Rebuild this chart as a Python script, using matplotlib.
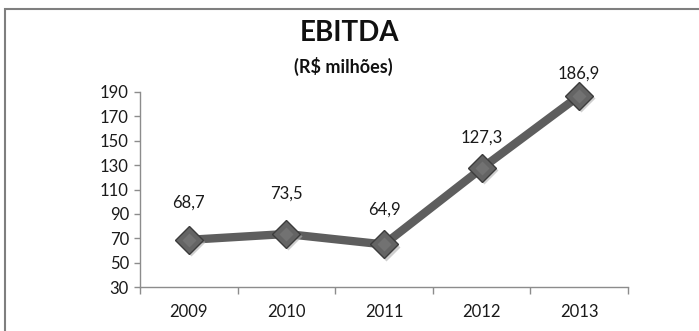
import matplotlib
matplotlib.use("Agg")
import matplotlib.pyplot as plt
from matplotlib.patches import Rectangle
import matplotlib.transforms as mtransforms

years = ["2009", "2010", "2011", "2012", "2013"]
ebitda = [68.7, 73.5, 64.9, 127.3, 186.9]
labels = ["68,7", "73,5", "64,9", "127,3", "186,9"]
yticks = [30, 50, 70, 90, 110, 130, 150, 170, 190]

# vertical distance (points) between each marker and its value label
label_offsets = [27, 29, 25, 22, 16]

plt.rcParams["font.family"] = ["Lato", "DejaVu Sans"]

W, H = 699, 331
fig = plt.figure(figsize=(W / 100, H / 100), dpi=100)
fig.patch.set_facecolor("white")

# chart frame (runs off the right and bottom edges)
fig.add_artist(Rectangle((5 / W, -0.1), 1.2, 1 - 9 / H + 0.1,
                         transform=fig.transFigure, fill=False,
                         edgecolor="#7f7f7f", linewidth=1.5))

left, right, bottom, top = 140, 628, 287, 92
ax = fig.add_axes([left / W, 1 - bottom / H, (right - left) / W, (bottom - top) / H])

x = list(range(len(years)))
ax.plot(x, ebitda, color="#5e5e5e", linewidth=6, solid_capstyle="butt", zorder=2,
        clip_on=False)

# soft drop shadow under the markers
shadow = mtransforms.offset_copy(ax.transData, fig=fig, x=1.5, y=-1.5, units="points")
ax.plot(x, ebitda, linestyle="none", marker="D", markersize=14.5,
        markerfacecolor="#b0b0b0", markeredgecolor="none", alpha=0.6,
        transform=shadow, zorder=2.5, clip_on=False)
ax.plot(x, ebitda, linestyle="none", marker="D", markersize=14,
        markerfacecolor="#646464", markeredgecolor="#3c3c3c", markeredgewidth=1,
        zorder=3, clip_on=False)
ax.plot(x, ebitda, linestyle="none", marker="D", markersize=7,
        markerfacecolor="#727272", markeredgecolor="none",
        zorder=3.5, clip_on=False)

for xi, yi, lab, off in zip(x, ebitda, labels, label_offsets):
    ax.annotate(lab, (xi, yi), xytext=(0, off), textcoords="offset points",
                ha="center", va="center", fontsize=12, color="#1a1a1a")

ax.set_xlim(-0.5, len(years) - 0.5)
ax.set_ylim(30, 190)
ax.set_yticks(yticks)
ax.set_yticklabels([str(v) for v in yticks], fontsize=12, color="#1a1a1a")
ax.set_xticks(x)
ax.set_xticklabels(years, fontsize=12, color="#1a1a1a")
ax.tick_params(axis="x", length=0, pad=12)
ax.set_xticks([i - 0.5 for i in range(len(years) + 1)], minor=True)
ax.tick_params(axis="x", which="minor", length=5, color="#8c8c8c", width=1)
ax.tick_params(axis="y", length=4, color="#8c8c8c", width=1, pad=4)

for s in ["top", "right"]:
    ax.spines[s].set_visible(False)
for s in ["left", "bottom"]:
    ax.spines[s].set_color("#8c8c8c")
    ax.spines[s].set_linewidth(1)
ax.set_facecolor("none")

fig.text(350 / W, 1 - 33 / H, "EBITDA", ha="center", va="center",
         fontsize=20, fontweight="bold", color="#111111")
fig.text(343 / W, 1 - 66 / H, "(R$ milhões)", ha="center", va="center",
         fontsize=13, fontweight="bold", color="#111111")

fig.savefig("out.png", dpi=100)
